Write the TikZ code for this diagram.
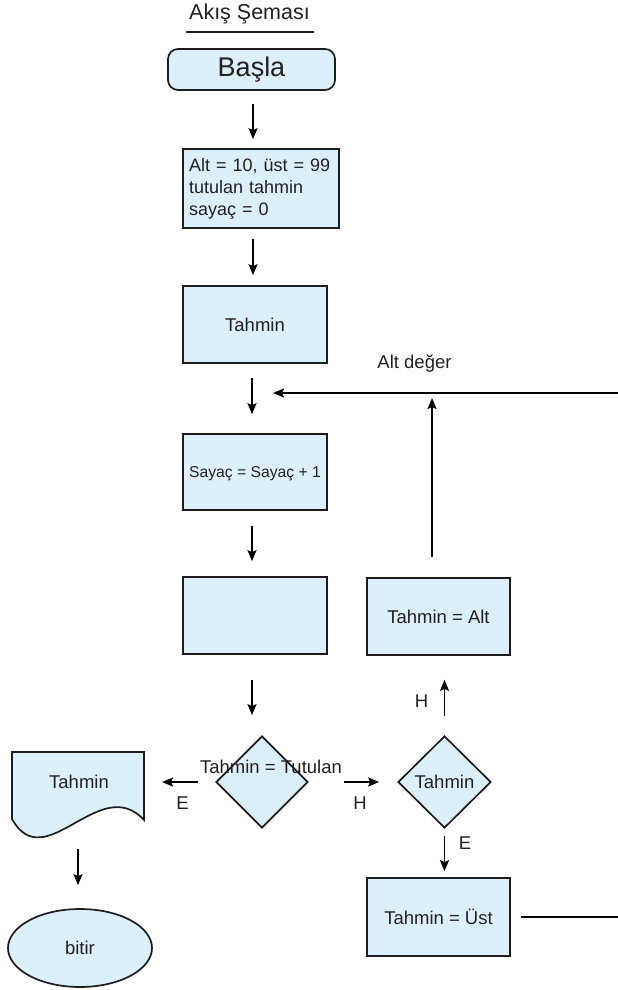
\documentclass[tikz,border=0pt]{standalone}
\usepackage{fontspec}
\setmainfont{Liberation Sans}
\usetikzlibrary{shapes.geometric,arrows.meta}
\definecolor{boxfill}{RGB}{220,240,251}
\definecolor{ink}{RGB}{30,28,28}
\definecolor{txt}{RGB}{35,31,32}
\begin{document}
\begin{tikzpicture}[x=1pt,y=-1pt,
  box/.style={draw=ink, line width=1.7pt, fill=boxfill, inner sep=0pt, text=txt, font=\fontsize{18.5}{22}\selectfont},
  arr/.style={draw=black, line width=1.7pt, -{Stealth[length=11pt,width=9pt,inset=2pt]}},
  lbl/.style={text=txt, font=\fontsize{18.5}{22}\selectfont, inner sep=0pt},
  plainline/.style={draw=black, line width=1.7pt}]
\useasboundingbox (0,0) rectangle (618,990);

% title
\node[lbl, font=\fontsize{21.5}{25}\selectfont] (title) at (249.5,14) {Akış Şeması};
\draw[line width=1.2pt, draw=ink] (186,32) -- (314,32);

% main column
\node[box, rounded corners=10pt, minimum width=167pt, minimum height=41pt, font=\fontsize{27}{31}\selectfont] (basla) at (251.5,69.5) {Başla};
\node[box, minimum width=156pt, minimum height=79pt, align=left, text width=144pt, font=\fontsize{18}{22}\selectfont] (init) at (261,188.5) {Alt = 10, üst = 99\\tutulan tahmin\\sayaç = 0};
\node[box, minimum width=144pt, minimum height=77pt] (tahmin1) at (255,324.5) {Tahmin};
\node[box, minimum width=144pt, minimum height=76pt, font=\fontsize{15.7}{19}\selectfont, text depth=-3pt] (sayac) at (255,472) {Sayaç = Sayaç + 1};
\node[box, minimum width=144pt, minimum height=77pt] (bos) at (255,615.5) {};

% decisions
\node[box, diamond, aspect=1, minimum width=92pt, minimum height=92pt] (d1) at (262,782) {};
\node[lbl] (d1t) at (271,767) {Tahmin = Tutulan};
\node[box, diamond, aspect=1, minimum width=93pt, minimum height=92pt] (d2) at (444.5,782) {};
\node[lbl] (d2t) at (444.5,782) {Tahmin};

% right column
\node[box, minimum width=143pt, minimum height=77pt] (talt) at (438.5,616.5) {Tahmin = Alt};
\node[box, minimum width=143pt, minimum height=78pt] (tust) at (438.5,917) {Tahmin = Üst};

% left column
\draw[box] (12,752) -- (144,752) -- (144,820) .. controls (100,772) and (45,878) .. (12,819) -- cycle;
\node[lbl] (doc) at (79,782) {Tahmin};
\node[box, ellipse, minimum width=144pt, minimum height=78pt] (bitir) at (80,948) {bitir};

% helper coordinates
\coordinate (cx) at (253,0);
\coordinate (cx2) at (252,0);
\coordinate (docE) at (144,782);
\coordinate (docS) at (78,838);
\coordinate (topR) at (618,393);
\coordinate (altUp) at (432,393);
\coordinate (merge) at (252,393);

% connectors
\draw[arr, shorten <=13pt, shorten >=9pt] (basla.south -| cx) -- (init.north -| cx);
\draw[arr, shorten <=10pt, shorten >=10pt] (init.south -| cx) -- (tahmin1.north -| cx);
\draw[arr, shorten <=14pt, shorten >=19pt] (tahmin1.south -| cx2) -- (sayac.north -| cx2);
\draw[arr, shorten <=15pt, shorten >=15pt] (sayac.south -| cx2) -- (bos.north -| cx2);
\draw[arr, shorten <=25pt, shorten >=20pt] (bos.south -| cx2) -- (d1.north -| cx2);
\draw[arr, shorten <=17pt, shorten >=18pt] (d1.west) -- (docE);
\draw[arr, shorten <=11pt, shorten >=23pt] (docS) -- (bitir.north -| docS);
\draw[arr, shorten <=35pt, shorten >=18pt] (d1.east) -- (d2.west);
\draw[arr, shorten <=19pt, shorten >=24pt] (d2.north) -- (talt.south -| d2.north);
\draw[arr, shorten <=7pt, shorten >=6pt] (d2.south) -- (tust.north -| d2.south);
\draw[arr, shorten <=20pt, shorten >=5pt] (talt.north -| altUp) -- (altUp);
\draw[arr, shorten >=21pt] (topR) -- (merge);
\draw[plainline, shorten <=10pt] (tust.east) -- (tust.east -| topR);

% labels
\node[lbl] (lE1) at (182.5,803) {E};
\node[lbl] (lH1) at (360,803) {H};
\node[lbl] (lH2) at (421.5,701) {H};
\node[lbl] (lE2) at (465,843) {E};
\node[lbl] (lalt) at (414.5,364) {Alt değer};
\end{tikzpicture}
\end{document}
